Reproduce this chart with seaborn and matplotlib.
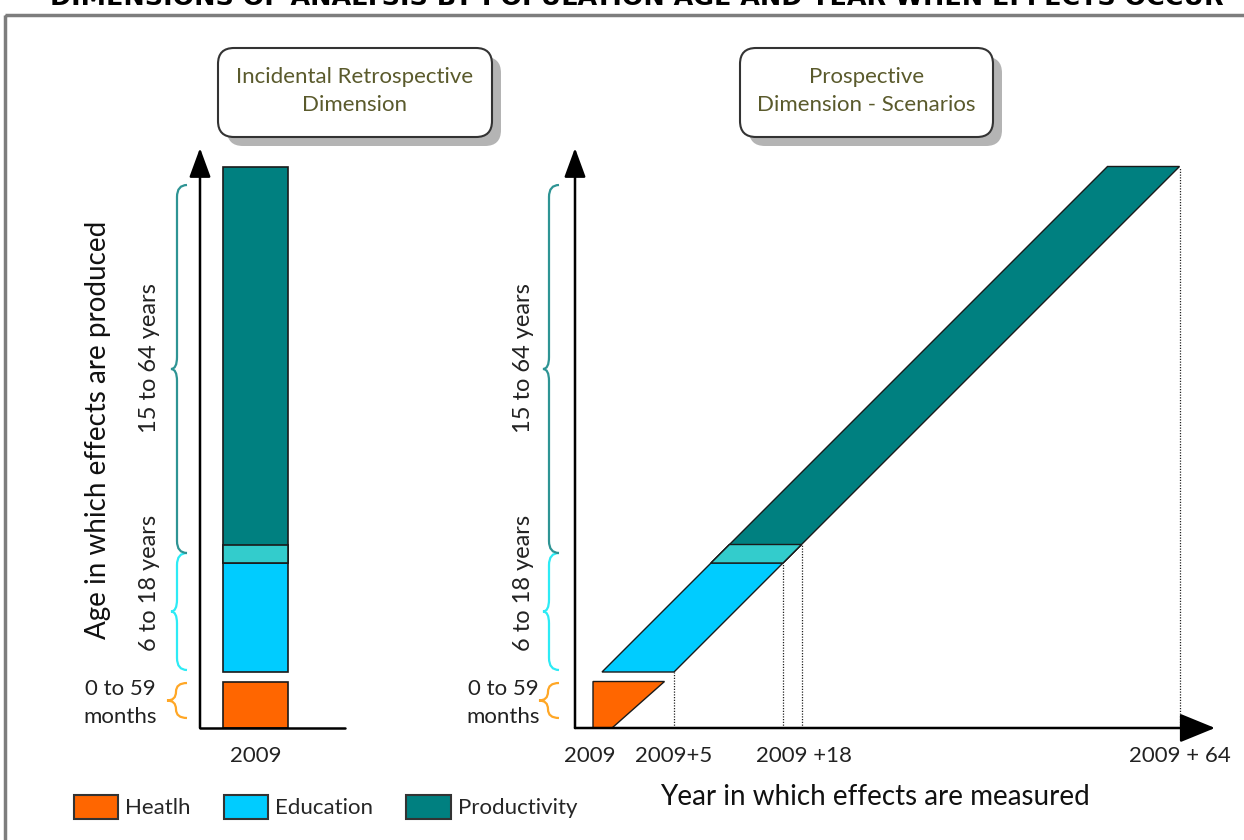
import matplotlib
matplotlib.use("Agg")
import matplotlib.pyplot as plt
from matplotlib.patches import Polygon, FancyBboxPatch, Rectangle, Patch, PathPatch
from matplotlib.path import Path
import seaborn as sns

# ---- data (schematic units: age bands on y, year of measurement on x) ----
groups = ["Heatlh", "Education", "Productivity"]
colors = ["#FF6600", "#00CCFF", "#008080"]
overlap_color = "#33CCCC"
brace_colors = ["#FFA726", "#2DEBF5", "#2E9494"]
band_low = [0.0, 5.6, 16.5]
band_high = [4.65, 18.35, 56.15]
age_labels = ["0 to 59\nmonths", "6 to 18 years", "15 to 64 years"]
brace_low = [1.0, 5.8, 17.5]
brace_high = [4.5, 17.5, 54.3]
label_y = [2.5, 14.5, 37.0]
year_labels = ["2009", "2009+5", "2009 +18", "2009 + 64"]
panel_titles = ["Incidental Retrospective\nDimension", "Prospective\nDimension - Scenarios"]

cohort_lag = 2.9     # left edge of the cohort band lags the age
cohort_lead = 4.3    # right edge leads the age
start_x = 1.8        # first year of measurement
bar_center, bar_width = 5.55, 6.5

sns.set_theme(style="white")
plt.rcParams['font.family'] = ['Lato', 'DejaVu Sans']

W, H = 1244, 840
fig = plt.figure(figsize=(W / 100, H / 100), dpi=100)

# full-figure overlay for frame, boxes, legend
bg = fig.add_axes([0, 0, 1, 1], zorder=0)
bg.set_xlim(0, W)
bg.set_ylim(H, 0)
bg.axis("off")


def px_axes(x0, y0, wu, hu):
    # axes whose origin sits at pixel (x0, y0); 1 unit = 10 px
    ax = fig.add_axes([x0 / W, (H - y0) / H, wu * 10 / W, hu * 10 / H], zorder=2)
    ax.set_xlim(0, wu)
    ax.set_ylim(0, hu)
    ax.patch.set_alpha(0)
    for s in ax.spines.values():
        s.set_visible(False)
    ax.set_yticks([])
    return ax


def brace(ax, xl, y0, y1, color, depth=1.0, tip=0.6):
    ym = (y0 + y1) / 2
    r = min(1.2, (y1 - y0) / 4)
    xe, xt = xl + depth, xl - tip
    verts = [(xe, y1), (xl, y1), (xl, y1 - r), (xl, ym + r), (xl, ym), (xt, ym),
             (xl, ym), (xl, ym - r), (xl, y0 + r), (xl, y0), (xe, y0)]
    codes = [Path.MOVETO, Path.CURVE3, Path.CURVE3, Path.LINETO, Path.CURVE3, Path.CURVE3,
             Path.CURVE3, Path.CURVE3, Path.LINETO, Path.CURVE3, Path.CURVE3]
    ax.add_patch(PathPatch(Path(verts, codes), fill=False, edgecolor=color, lw=1.6, clip_on=False))


def axis_arrows(ax, xmax, ymax, x_arrow):
    ax.annotate("", xy=(0, ymax), xytext=(0, 0), annotation_clip=False,
                arrowprops=dict(arrowstyle="-|>,head_length=0.9,head_width=0.33",
                                mutation_scale=20, color="black", lw=1.8, shrinkA=0, shrinkB=0))
    if x_arrow:
        ax.annotate("", xy=(xmax, 0), xytext=(0, 0), annotation_clip=False,
                    arrowprops=dict(arrowstyle="-|>,head_length=1.1,head_width=0.45",
                                    mutation_scale=20, color="black", lw=1.8, shrinkA=0, shrinkB=0))
    else:
        ax.plot([0, xmax], [0, 0], color="black", lw=1.8, clip_on=False)


def brace_set(ax, xl, lab_x, months_x):
    for i in range(3):
        brace(ax, xl - (0.1 if i == 0 else 0), brace_low[i], brace_high[i], brace_colors[i],
              depth=1.0 if i else 1.1, tip=0.6 if i else 0.9)
    ax.text(months_x, label_y[0], age_labels[0], ha="center", va="center", fontsize=16,
            color="#222222", linespacing=1.45)
    for i in (1, 2):
        ax.text(lab_x, label_y[i], age_labels[i], rotation=90, ha="center", va="center",
                fontsize=17, color="#222222")


edge = "#1a1a1a"

# ---- left panel: retrospective stacked bar ----
axl = px_axes(200, 728, 14.5, 58)
for i in range(3):
    axl.bar(bar_center, band_high[i] - band_low[i], bottom=band_low[i], width=bar_width,
            color=colors[i], edgecolor=edge, lw=1.2)
axl.bar(bar_center, band_high[1] - band_low[2], bottom=band_low[2], width=bar_width,
        color=overlap_color, edgecolor=edge, lw=1.2)
axis_arrows(axl, 14.5, 58, False)
axl.set_xticks([bar_center], [year_labels[0]])
axl.tick_params(axis="x", length=0, pad=13, labelsize=16, labelcolor="#222222")
brace_set(axl, -2.3, -5.0, -8.0)
axl.text(-10.2, 29.8, "Age in which effects are produced", rotation=90, ha="center",
         va="center", fontsize=20, color="#111111")

# ---- right panel: prospective cohort bands ----
axr = px_axes(575, 728, 64, 58)


def left_edge(y):
    return max(y - cohort_lag, start_x)


def right_edge(y):
    return y + cohort_lead


def band(y0, y1, color):
    pts = [(left_edge(y0), y0), (right_edge(y0), y0), (right_edge(y1), y1), (left_edge(y1), y1)]
    axr.add_patch(Polygon(pts, closed=True, facecolor=color, edgecolor=edge, lw=1.0))


# health: trapezoid starting at the first year
axr.add_patch(Polygon([(start_x, band_low[0]), (right_edge(band_low[0]) - 0.6, band_low[0]),
                       (right_edge(band_high[0]), band_high[0]), (start_x, band_high[0])],
                      closed=True, facecolor=colors[0], edgecolor=edge, lw=1.0))
band(band_low[1], band_high[1], colors[1])
band(band_low[2], band_high[2], colors[2])
band(band_low[2], band_high[1], overlap_color)

for y in [band_low[1], band_low[2], band_high[1], band_high[2]]:
    axr.plot([right_edge(y), right_edge(y)], [0, y], color="#222222", lw=0.9, ls=(0, (1, 1.2)))

axis_arrows(axr, 64, 58, True)
year_x = [start_x - 0.3, right_edge(band_low[1]), right_edge(band_high[1]) + 0.2, right_edge(band_high[2])]
axr.set_xticks(year_x, year_labels)
axr.tick_params(axis="x", length=0, pad=13, labelsize=16, labelcolor="#222222")
brace_set(axr, -2.6, -5.2, -7.2)
axr.text(30, -6.9, "Year in which effects are measured", ha="center", va="center",
         fontsize=20, color="#111111")

# ---- panel title boxes with shadow ----
for (bx0, bx1), txt in zip([(218, 492), (740, 993)], panel_titles):
    bg.add_patch(FancyBboxPatch((bx0 + 9, 57), bx1 - bx0, 89, boxstyle="round,pad=0,rounding_size=16",
                                facecolor="#b4b4b4", edgecolor="none", zorder=1))
    bg.add_patch(FancyBboxPatch((bx0, 48), bx1 - bx0, 89, boxstyle="round,pad=0,rounding_size=16",
                                facecolor="white", edgecolor="#333333", lw=1.5, zorder=2))
    bg.text((bx0 + bx1) / 2, 91, txt, ha="center", va="center", fontsize=16,
            color="#5a5a2c", linespacing=1.5, zorder=3)

# outer frame and clipped title
bg.add_patch(Rectangle((5, 15), W + 20, H + 20, fill=False, edgecolor="#7d7d7d", lw=2.5, zorder=1))
bg.text(637, 5, "DIMENSIONS OF ANALYSIS BY POPULATION AGE AND YEAR WHEN EFFECTS OCCUR",
        ha="center", va="baseline", fontsize=18.3, fontweight="bold", color="black",
        family="DejaVu Sans")

# legend
handles = [Patch(facecolor=c, edgecolor="#333333", lw=1.5, label=g) for g, c in zip(groups, colors)]
bg.legend(handles=handles, loc="center left", bbox_to_anchor=(74 / W, 1 - 807 / H),
          bbox_transform=fig.transFigure, ncol=3, frameon=False, fontsize=16,
          handlelength=2.0, handleheight=1.35, handletextpad=0.3, columnspacing=1.5,
          borderpad=0, borderaxespad=0)

fig.savefig("out.png", dpi=100)
